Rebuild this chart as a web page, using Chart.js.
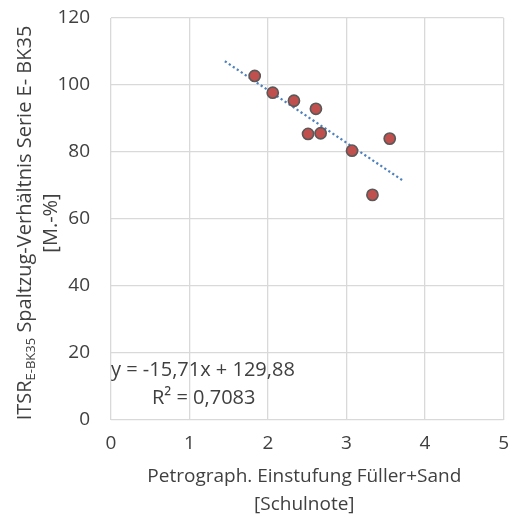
<!DOCTYPE html>
<html>
<head>
<meta charset="utf-8">
<script src="https://cdn.jsdelivr.net/npm/chart.js@4"></script>
<style>
  html, body { margin: 0; padding: 0; background: #fff; }
  #wrap { width: 521px; height: 517px; position: relative; }
</style>
</head>
<body>
<div id="wrap"><canvas id="c" width="521" height="517"></canvas></div>
<script>
// Petrographic rating (Füller+Sand) vs. ITSR split-tensile ratio, series E- BK35
const xValues = [1.83, 2.06, 2.33, 2.61, 2.51, 2.67, 3.07, 3.55, 3.33];
const yValues = [102.7, 97.7, 95.3, 92.9, 85.4, 85.6, 80.4, 84.0, 67.2];
const xTicks = [0, 1, 2, 3, 4, 5];
const yTicks = [0, 20, 40, 60, 80, 100, 120];
// linear trend y = slope * x + intercept, drawn over xTrendRange
const trendSlope = -15.71;
const trendIntercept = 129.88;
const xTrendRange = [1.45, 3.72];
const equationText = 'y = -15,71x + 129,88';
const r2Text = 'R² = 0,7083';
const xTitleLines = ['Petrograph. Einstufung Füller+Sand', '[Schulnote]'];
const yTitleMain = 'ITSR';
const yTitleSub = 'E-BK35';
const yTitleRest = ' Spaltzug-Verhältnis Serie E- BK35';
const yTitleLine2 = '[M.-%]';

const FONT = '"Open Sans", "Noto Sans", sans-serif';
const TEXT = '#404040';
const SIZE = 19;

const points = xValues.map((x, i) => ({ x: x, y: yValues[i] }));
const trend = xTrendRange.map(x => ({ x: x, y: trendSlope * x + trendIntercept }));

const annotate = {
  id: 'annotate',
  afterDraw(chart) {
    const ctx = chart.ctx;
    const area = chart.chartArea;
    ctx.save();
    ctx.fillStyle = TEXT;
    // trend equation
    ctx.font = '20px ' + FONT;
    ctx.textBaseline = 'middle';
    ctx.textAlign = 'left';
    ctx.fillText(equationText, 111, 370);
    ctx.fillText(r2Text, 152, 398);
    // x axis title
    ctx.font = SIZE + 'px ' + FONT;
    ctx.textAlign = 'center';
    const cx = (area.left + area.right) / 2;
    ctx.fillText(xTitleLines[0], cx - 3, 477);
    ctx.fillText(xTitleLines[1], cx - 3, 505);
    // y axis title (rotated, with subscript)
    const big = '20px ' + FONT, small = '13px ' + FONT;
    ctx.translate(25, 223);
    ctx.rotate(-Math.PI / 2);
    ctx.font = big;
    const w1 = ctx.measureText(yTitleMain).width;
    const w3 = ctx.measureText(yTitleRest).width;
    ctx.font = small;
    const w2 = ctx.measureText(yTitleSub).width;
    let pos = -(w1 + w2 + w3) / 2;
    ctx.textAlign = 'left';
    ctx.font = big;
    ctx.fillText(yTitleMain, pos, 0);
    pos += w1;
    ctx.font = small;
    ctx.fillText(yTitleSub, pos, 6);
    pos += w2;
    ctx.font = big;
    ctx.fillText(yTitleRest, pos, 0);
    ctx.textAlign = 'center';
    ctx.fillText(yTitleLine2, 0, 26);
    ctx.restore();
  }
};

new Chart(document.getElementById('c'), {
  type: 'scatter',
  data: {
    datasets: [
      {
        data: trend,
        showLine: true,
        borderColor: '#4f81bd',
        borderWidth: 2.2,
        borderDash: [2.2, 2.6],
        pointRadius: 0,
        fill: false,
        order: 2
      },
      {
        data: points,
        backgroundColor: '#c0504d',
        borderColor: '#595959',
        borderWidth: 1.6,
        pointRadius: 5.6,
        order: 1
      }
    ]
  },
  options: {
    responsive: false,
    animation: false,
    layout: { padding: { left: 0, right: 14, top: 0, bottom: 0 } },
    plugins: { legend: { display: false }, tooltip: { enabled: false } },
    scales: {
      x: {
        type: 'linear',
        min: 0, max: 5,
        afterBuildTicks(scale) { scale.ticks = xTicks.map(v => ({ value: v })); },
        afterFit(scale) { scale.height = 97; },
        grid: { color: '#d9d9d9', lineWidth: 1.3, drawTicks: false },
        border: { display: false },
        ticks: { color: TEXT, font: { family: FONT, size: SIZE }, padding: 12 }
      },
      y: {
        type: 'linear',
        min: 0, max: 120,
        afterBuildTicks(scale) { scale.ticks = yTicks.map(v => ({ value: v })); },
        afterFit(scale) {
          scale.width = 111;
          scale.paddingTop = 18;
          scale.paddingBottom = 0;
        },
        grid: { color: '#d9d9d9', lineWidth: 1.3, drawTicks: false },
        border: { display: false },
        ticks: { color: TEXT, font: { family: FONT, size: SIZE }, padding: 21 }
      }
    }
  },
  plugins: [annotate]
});
</script>
</body>
</html>
